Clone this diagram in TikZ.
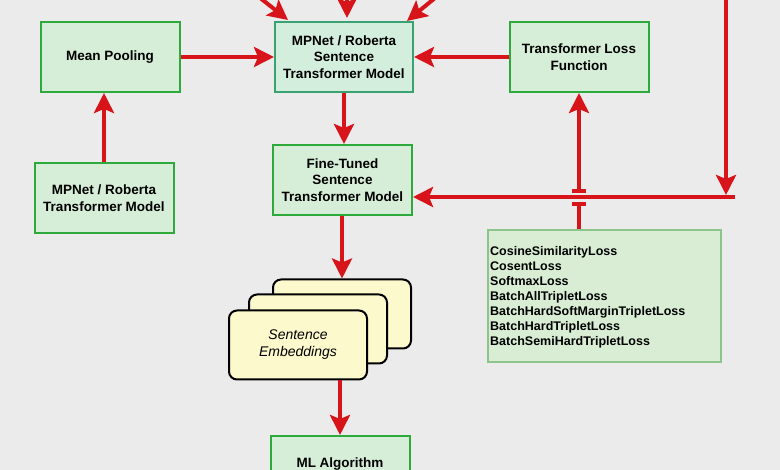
\documentclass[tikz,border=0pt]{standalone}
\usepackage{fontspec}
\setmainfont{Liberation Sans}
\usetikzlibrary{arrows.meta,calc}
\definecolor{bg}{HTML}{EBEBEB}
\definecolor{boxfill}{HTML}{D6EED8}
\definecolor{boxline}{HTML}{2EAA3C}
\definecolor{stfill}{HTML}{D4EEDE}
\definecolor{stline}{HTML}{3AA272}
\definecolor{listfill}{HTML}{D8EDD3}
\definecolor{listline}{HTML}{8CC48C}
\definecolor{cardfill}{HTML}{FCF9CC}
\definecolor{arr}{HTML}{D7141A}
\tikzset{
  box/.style={draw=boxline, fill=boxfill, line width=2pt, minimum width=139pt, minimum height=70pt,
    align=center, inner sep=0pt, font=\bfseries\fontsize{13.5}{16.5}\selectfont},
  stbox/.style={box, draw=stline, fill=stfill},
  listbox/.style={draw=listline, fill=listfill, line width=2pt, minimum width=233pt, minimum height=132pt, inner sep=0pt},
  listtext/.style={align=left, inner sep=0pt, font=\bfseries\fontsize{12.5}{15}\selectfont},
  card/.style={draw=black, fill=cardfill, line width=2pt, rounded corners=8pt, minimum width=138pt,
    minimum height=69pt, align=center, inner sep=0pt, font=\itshape\fontsize{14}{17}\selectfont},
  flow/.style={draw=arr, line width=4pt, -{Stealth[length=20pt,width=20pt,inset=4pt]}},
  plain/.style={draw=arr, line width=4pt},
}
\begin{document}
\begin{tikzpicture}[x=1pt,y=-1pt]
\fill[bg] (0,0) rectangle (780,470);
\useasboundingbox (0,0) rectangle (780,470);
\begin{scope}
\clip (0,0) rectangle (780,470);
% nodes
\node[box] (pool) at (110,57) {Mean Pooling};
\node[stbox, minimum width=138pt] (st) at (344,57) {MPNet / Roberta\\Sentence\\Transformer Model};
\node[box] (loss) at (579,57) {Transformer Loss\\Function};
\node[box] (base) at (104,198) {MPNet / Roberta\\Transformer Model};
\node[box] (ft) at (342.5,180) {Fine-Tuned\\Sentence\\Transformer Model};
\node[listbox, anchor=north west] (list) at (487,229) {};
\node[listtext, anchor=west] (listtxt) at (490,297) {CosineSimilarityLoss\\CosentLoss\\SoftmaxLoss\\BatchAllTripletLoss\\BatchHardSoftMarginTripletLoss\\BatchHardTripletLoss\\BatchSemiHardTripletLoss};
\node[card] (back) at (342,314) {};
\node[card] (mid) at (318,329) {};
\node[card] (front) at (298,345) {Sentence\\Embeddings};
\node[box, minimum height=56pt] (ml) at (340,464) {ML Algorithm};
% coordinates for free ends
\coordinate (in1) at (240,-18);
\coordinate (tip1) at (288,20);
\coordinate (in2) at (347,-15);
\coordinate (tip2) at (347,18);
\coordinate (in3) at (452,-16);
\coordinate (tip3) at (407,21);
\coordinate (rtop) at (726,-10);
\coordinate (rtip) at (726,195);
\coordinate (rend) at (735,197);
\coordinate (brlow) at ($(loss.south |- rend)+(0,7)$);
\coordinate (brhigh) at ($(loss.south |- rend)+(0,-6)$);
% connectors
\draw[flow] (in1) -- (tip1);
\draw[flow] (in2) -- (tip2);
\draw[flow] (in3) -- (tip3);
\draw[flow] (pool.east) -- (st.west);
\draw[flow] (loss.west) -- (st.east);
\draw[flow] (st.south) -- (st.south |- ft.north);
\draw[flow] (base.north) -- (base.north |- pool.south);
\draw[flow] (ft.south -| back.north) -- (back.north);
\draw[flow] (ml.north |- front.south) -- (ml.north);
\draw[flow] (rtop) -- (rtip);
\draw[flow] (rend) -- (ft.east |- rend);
\draw[plain] (list.north -| loss.south) -- (brlow);
\draw[plain] ($(brlow)+(-7,0)$) -- ($(brlow)+(7,0)$);
\draw[plain] ($(brhigh)+(-7,0)$) -- ($(brhigh)+(7,0)$);
\draw[flow] (brhigh) -- (loss.south);
\end{scope}
\end{tikzpicture}
\end{document}
